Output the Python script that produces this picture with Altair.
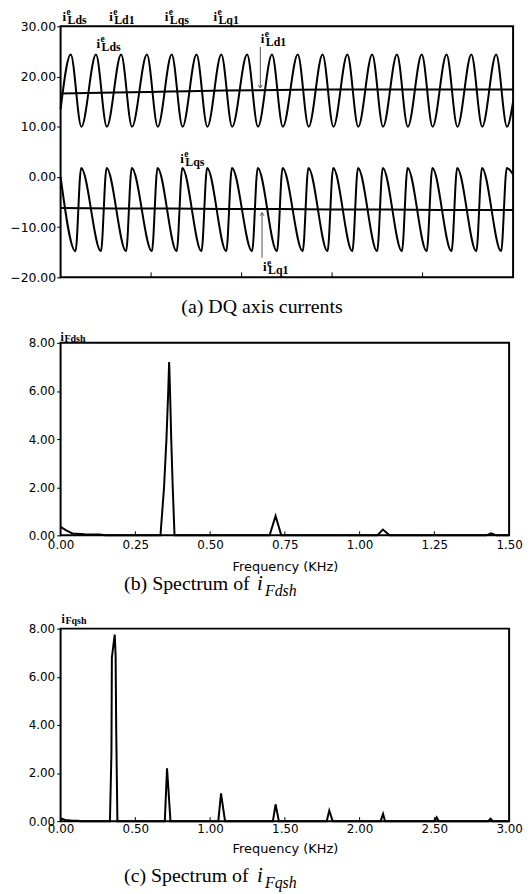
import altair as alt
import pandas as pd

# ---------------- (a) DQ axis currents : read values (time in ms) ----------------
ids_peak_t = [1.12, 3.91, 6.69, 9.54, 12.28, 15.02, 17.76, 20.61, 23.36, 26.21, 28.95, 31.69, 34.43, 37.17, 39.91, 42.65, 45.39, 48.13]
ids_peak_v = [24.4, 24.4, 24.4, 24.4, 24.4, 24.4, 24.4, 24.4, 24.4, 24.4, 24.4, 24.4, 24.4, 24.4, 24.4, 24.4, 24.4, 24.4]
ids_trough_t = [2.30, 5.11, 7.89, 10.74, 13.48, 16.22, 18.96, 21.81, 24.56, 27.41, 30.15, 32.89, 35.63, 38.37, 41.11, 43.85, 46.59, 49.33]
ids_trough_v = [10.0, 10.0, 10.0, 10.0, 10.0, 10.0, 10.0, 10.0, 10.0, 10.0, 10.0, 10.0, 10.0, 10.0, 10.0, 10.0, 10.0, 10.0]
ids_edge_t = [0.0, 50.0]
ids_edge_v = [13.5, 15.0]

iqs_peak_t = [2.27, 5.08, 7.86, 10.71, 13.45, 16.19, 18.93, 21.78, 24.53, 27.38, 30.12, 32.86, 35.60, 38.34, 41.08, 43.82, 46.56, 49.30]
iqs_peak_v = [1.8, 1.8, 1.8, 1.8, 1.8, 1.8, 1.8, 1.8, 1.8, 1.8, 1.8, 1.8, 1.8, 1.8, 1.8, 1.8, 1.8, 1.8]
iqs_trough_t = [1.65, 4.46, 7.24, 10.09, 12.83, 15.57, 18.31, 21.16, 23.91, 26.76, 29.50, 32.24, 34.98, 37.72, 40.46, 43.20, 45.94, 48.68]
iqs_trough_v = [-14.8, -14.8, -14.8, -14.8, -14.8, -14.8, -14.8, -14.8, -14.8, -14.8, -14.8, -14.8, -14.8, -14.8, -14.8, -14.8, -14.8, -14.8]
iqs_edge_t = [0.0, 50.0]
iqs_edge_v = [0.0, 0.5]

dc_t = [0, 6, 12, 18, 24, 30, 36, 42, 50]
id1_v = [16.6, 16.8, 17.0, 17.2, 17.3, 17.4, 17.4, 17.4, 17.4]
iq1_v = [-6.2, -6.3, -6.3, -6.4, -6.4, -6.5, -6.5, -6.6, -6.6]

a_yticks = [-20, -10, 0, 10, 20, 30]
a_xticks = [10, 20, 30, 40]

lab_t = [0.22, 5.37, 11.51, 16.89, 3.98, 22.12, 13.23, 22.37]
lab_v = [31.08, 31.08, 31.08, 31.08, 25.70, 26.68, 2.85, -18.83]
lab_sub = ["Lds", "Ld1", "Lqs", "Lq1", "Lds", "Ld1", "Lqs", "Lq1"]

arrow_t = [22.07, 22.26]
arrow_v1 = [25.9, -16.1]
arrow_v2 = [17.7, -7.1]

caption_a = ["(a) DQ axis currents"]

# ---------------- (b) spectrum of i_Fdsh ----------------
b_f = [0.0, 0.02, 0.04, 0.08, 0.13, 0.15, 0.334, 0.346, 0.354, 0.360, 0.363, 0.366, 0.370, 0.375, 0.381,
       0.699, 0.719, 0.738, 1.059, 1.078, 1.10, 1.424, 1.44, 1.457, 1.5]
b_a = [0.35, 0.20, 0.08, 0.05, 0.04, 0.0, 0.0, 2.0, 4.0, 6.0, 7.2, 6.0, 4.0, 2.0, 0.0,
       0.0, 0.81, 0.0, 0.0, 0.24, 0.0, 0.0, 0.08, 0.0, 0.0]
b_xticks = [0.0, 0.25, 0.5, 0.75, 1.0, 1.25, 1.5]
b_inner = [0.25, 0.5, 0.75, 1.0, 1.25]

# ---------------- (c) spectrum of i_Fqsh ----------------
c_f = [0.0, 0.03, 0.08, 0.12, 0.13, 0.330, 0.340, 0.343, 0.362, 0.368, 0.372, 0.380,
       0.697, 0.712, 0.735, 1.055, 1.073, 1.10, 1.42, 1.438, 1.46, 1.78, 1.797, 1.82,
       2.14, 2.157, 2.17, 2.50, 2.515, 2.53, 2.86, 2.876, 2.89, 3.0]
c_a = [0.12, 0.05, 0.02, 0.02, 0.0, 0.0, 2.8, 6.8, 7.75, 6.9, 3.8, 0.0,
       0.0, 2.2, 0.0, 0.0, 1.15, 0.0, 0.0, 0.70, 0.0, 0.0, 0.44, 0.0,
       0.0, 0.30, 0.0, 0.0, 0.16, 0.0, 0.0, 0.10, 0.0, 0.0]
c_xticks = [0.0, 0.5, 1.0, 1.5, 2.0, 2.5, 3.0]
c_inner = [0.5, 1.0, 1.5, 2.0, 2.5]
s_yticks = [0, 2, 4, 6, 8]

cap_b = ["(b) Spectrum of", "i", "Fdsh"]
cap_c = ["(c) Spectrum of", "i", "Fqsh"]

SANS = "DejaVu Sans"
SERIF = "Liberation Serif"
W_A, H_A = 456, 253
W_S, H_S = 452, 194

# ---------------- panel (a) ----------------
wave = pd.DataFrame({
    "t": ids_peak_t + ids_trough_t + ids_edge_t + iqs_peak_t + iqs_trough_t + iqs_edge_t,
    "v": ids_peak_v + ids_trough_v + ids_edge_v + iqs_peak_v + iqs_trough_v + iqs_edge_v,
    "s": ["ids"] * 38 + ["iqs"] * 38,
}).sort_values(["s", "t"])
dc = pd.DataFrame({"t": dc_t + dc_t, "v": id1_v + iq1_v, "s": ["id1"] * 9 + ["iq1"] * 9})

xa = alt.Scale(domain=[0, 50], nice=False, zero=False)
ya = alt.Scale(domain=[-20, 30], nice=False, zero=False)
ya_axis = alt.Axis(
    values=a_yticks, format=".2f", title=None, grid=False, domain=False,
    tickSize=4, tickColor="black", labelPadding=1, labelFont=SANS, labelFontSize=12.5,
    labelColor="black", minExtent=50, maxExtent=50)


def XA(f="t"):
    return alt.X(f + ":Q", scale=xa, axis=None)


def YA(f="v"):
    return alt.Y(f + ":Q", scale=ya, axis=ya_axis)


lines_a = alt.Chart(wave).mark_line(color="black", strokeWidth=2, interpolate="monotone").encode(
    x=XA(), y=YA(), detail="s:N")
dc_a = alt.Chart(dc).mark_line(color="black", strokeWidth=2, interpolate="monotone").encode(
    x=XA(), y=YA(), detail="s:N")

ticks_a = alt.Chart(pd.DataFrame({"t": a_xticks})).mark_rule(color="black", strokeWidth=1).encode(
    x=XA(), y=alt.value(H_A - 5), y2=alt.value(H_A))

labs = pd.DataFrame({"t": lab_t, "v": lab_v, "sub": lab_sub})
lab_i = alt.Chart(labs).mark_text(text="i", font=SERIF, fontWeight="bold", fontSize=13, align="left",
                                  baseline="alphabetic", color="black").encode(x=XA(), y=YA())
lab_e = alt.Chart(labs).mark_text(text="e", font=SERIF, fontWeight="bold", fontSize=9.5, align="left",
                                  baseline="alphabetic", color="black", dx=4, dy=-6).encode(x=XA(), y=YA())
lab_s = alt.Chart(labs).mark_text(font=SERIF, fontWeight="bold", fontSize=12, align="left",
                                  baseline="alphabetic", color="black", dx=5, dy=3).encode(
    x=XA(), y=YA(), text="sub:N")

arr = pd.DataFrame({"t": arrow_t, "v1": arrow_v1, "v2": arrow_v2})
arrows = alt.Chart(arr).mark_rule(color="#555555", strokeWidth=1).encode(
    x=XA(), y=YA("v1"), y2="v2:Q")
head_dn = alt.Chart(pd.DataFrame({"t": arrow_t[:1], "v": arrow_v2[:1]})).mark_point(
    shape="M-1,-1.6L0,0L1,-1.6", filled=False, stroke="#555555", strokeWidth=1, size=16, opacity=1).encode(
    x=XA(), y=YA())
head_up = alt.Chart(pd.DataFrame({"t": arrow_t[1:], "v": arrow_v2[1:]})).mark_point(
    shape="M-1,1.6L0,0L1,1.6", filled=False, stroke="#555555", strokeWidth=1, size=16, opacity=1).encode(
    x=XA(), y=YA())

cap_a_txt = alt.Chart(pd.DataFrame({"c": caption_a})).mark_text(
    font=SERIF, fontSize=20, align="center", baseline="alphabetic", color="black").encode(
    x=alt.value(203), y=alt.value(H_A + 36), text="c:N")

panel_a = alt.layer(lines_a, dc_a, ticks_a, arrows, head_dn, head_up, lab_i, lab_e, lab_s, cap_a_txt).properties(
    width=W_A, height=H_A)


# ---------------- spectra panels ----------------
def spectrum(fr, am, xticks, inner, xmax, caps, lab_y, lab_x, lab_pad, title_pad, cap_y):
    df = pd.DataFrame({"f": fr, "a": am})
    xs = alt.Scale(domain=[0, xmax], nice=False, zero=False)
    ys = alt.Scale(domain=[0, 8], nice=False, zero=False)
    x_axis = alt.Axis(
        values=xticks, format=".2f", title="Frequency (KHz)", grid=False, domain=False,
        ticks=False, labelPadding=lab_pad, labelFont=SANS, labelFontSize=12, labelColor="black",
        labelFlush=False, labelOverlap=False, titleFont=SANS, titleFontSize=13,
        titleFontWeight="normal", titleColor="black", titlePadding=title_pad)
    y_axis = alt.Axis(
        values=s_yticks, format=".2f", title=None, grid=False, domain=False,
        tickSize=4, tickColor="black", labelPadding=2, labelFont=SANS, labelFontSize=12,
        labelColor="black", minExtent=48, maxExtent=48)
    line = alt.Chart(df).mark_line(color="black", strokeWidth=2).encode(
        x=alt.X("f:Q", scale=xs, axis=x_axis),
        y=alt.Y("a:Q", scale=ys, axis=y_axis),
    )
    tk = alt.Chart(pd.DataFrame({"f": inner})).mark_rule(color="black", strokeWidth=1).encode(
        x=alt.X("f:Q", scale=xs, axis=x_axis), y=alt.value(H_S - 4), y2=alt.value(H_S))
    lab_i = alt.Chart(pd.DataFrame({"c": ["i"]})).mark_text(
        font=SERIF, fontWeight="bold", fontSize=12, align="left", baseline="alphabetic", color="black").encode(
        x=alt.value(lab_x), y=alt.value(lab_y), text="c:N")
    lab_s = alt.Chart(pd.DataFrame({"c": [caps[2]]})).mark_text(
        font=SERIF, fontWeight="bold", fontSize=10, align="left", baseline="alphabetic", color="black").encode(
        x=alt.value(lab_x + 4), y=alt.value(lab_y + 1), text="c:N")
    c1 = alt.Chart(pd.DataFrame({"c": [caps[0]]})).mark_text(
        font=SERIF, fontSize=20, align="left", baseline="alphabetic", color="black").encode(
        x=alt.value(64), y=alt.value(cap_y), text="c:N")
    c2 = alt.Chart(pd.DataFrame({"c": [caps[1]]})).mark_text(
        font=SERIF, fontSize=21, fontStyle="italic", align="left", baseline="alphabetic", color="black").encode(
        x=alt.value(198), y=alt.value(cap_y), text="c:N")
    c3 = alt.Chart(pd.DataFrame({"c": [caps[2]]})).mark_text(
        font=SERIF, fontSize=16, fontStyle="italic", align="left", baseline="alphabetic", color="black").encode(
        x=alt.value(206), y=alt.value(cap_y + 6), text="c:N")
    return alt.layer(line, tk, lab_i, lab_s, c1, c2, c3).properties(width=W_S, height=H_S)


panel_b = spectrum(b_f, b_a, b_xticks, b_inner, 1.5, cap_b, -2, 0, 4, 10, H_S + 55)
panel_c = spectrum(c_f, c_a, c_xticks, c_inner, 3.0, cap_c, -6, 1, 2, 9, H_S + 61)

chart = alt.vconcat(
    alt.hconcat(panel_a), alt.hconcat(panel_b), alt.hconcat(panel_c), spacing=12
).properties(padding={"top": -6, "left": 0, "right": 0, "bottom": 0}).configure_view(
    stroke="black", strokeWidth=2)

chart.save("out.html", embed_options={"renderer": "svg", "actions": False})
